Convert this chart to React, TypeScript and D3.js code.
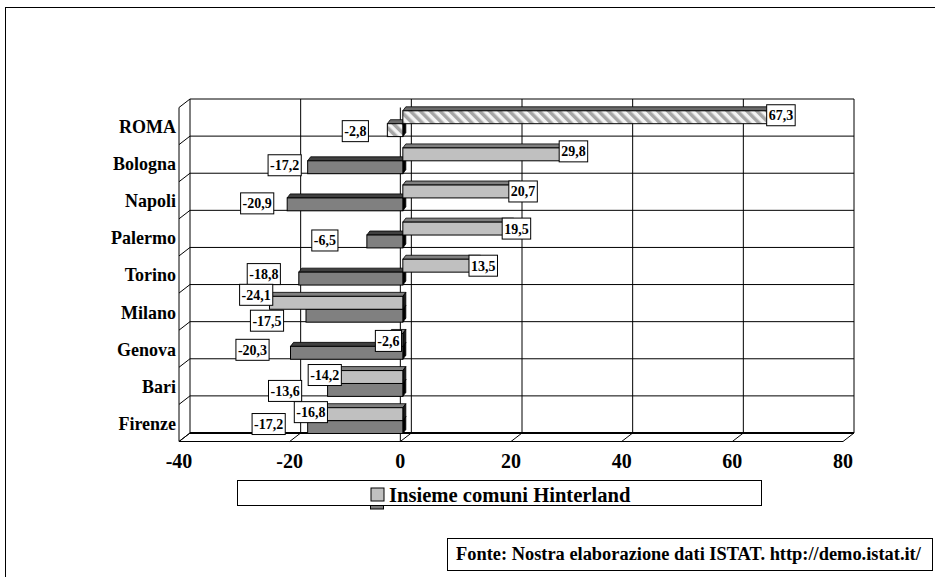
import React from 'react';
import * as d3 from 'd3';

// ---- data ----
const categories = ['ROMA', 'Bologna', 'Napoli', 'Palermo', 'Torino', 'Milano', 'Genova', 'Bari', 'Firenze'];
const hinterland = [67.3, 29.8, 20.7, 19.5, 13.5, -24.1, -2.6, -14.2, -16.8];
const centrale = [-2.8, -17.2, -20.9, -6.5, -18.8, -17.5, -20.3, -13.6, -17.2];
const xTicks = [-40, -20, 0, 20, 40, 60, 80];
const legendLabel = 'Insieme comuni Hinterland';
const sourceText = 'Fonte: Nostra elaborazione dati ISTAT. http://demo.istat.it/';
const hatchedCategory = 'ROMA';

// manual label nudges (px), relative to bar end (x) and bar centre (y)
const labelNudgeX1 = [5.7, 5.7, 5.7, 5.7, 5.7, -13.3, 0, 0.5, 1];
const labelNudgeY1 = [-2, -3, 0, 0, 0, -8, 1, -2, -2];
const labelNudgeX2 = [-32, -23, -30, -42, -35, -39, -38, -42.5, -39];
const labelNudgeY2 = [1, -2, -1, -1, -4.5, 5, -3, 1, -3];

const W = 935;
const H = 577;
const FONT = "'Liberation Serif', 'DejaVu Serif', serif";

// layout
const backTop = 99;
const backBottom = 433;
const frontLeft = 179;
const frontRight = 843;
const depthX = 11;
const depthY = 8.5;
const barDX = 3;
const barDY = 4;

const fmt = (v: number) => v.toFixed(1).replace('.', ',');

let measureCtx: CanvasRenderingContext2D | null = null;
function textWidth(t: string, font: string) {
  if (!measureCtx) measureCtx = document.createElement('canvas').getContext('2d');
  if (!measureCtx) return t.length * 7;
  measureCtx.font = font;
  return measureCtx.measureText(t).width;
}

const txt = (size: number): React.CSSProperties => ({
  fontFamily: FONT,
  fontWeight: 'bold',
  fontSize: `${size}px`,
});

export default function App() {
  const xFront = d3.scaleLinear().domain([-40, 80]).range([frontLeft, frontRight]);
  const xBack = d3.scaleLinear().domain([-40, 80]).range([frontLeft + depthX, frontRight + depthX]);
  const xBar = d3.scaleLinear().domain([-40, 80]).range([frontLeft + 2.5, frontRight + 2.5]);
  const yBand = d3.scaleBand<string>().domain(categories).range([backTop, backBottom]).paddingInner(0).paddingOuter(0);
  const bw = yBand.bandwidth();
  const ySeries = d3.scaleBand<string>().domain(['s1', 's2']).range([bw * 0.318, bw * 1.013]);
  const sh = ySeries.bandwidth();

  const labelFont = `bold 14px ${FONT}`;

  const bar = (key: string, v: number, yTop: number, h: number, fill: string, topFill: string, sideFill: string) => {
    const xa = xBar(Math.min(0, v));
    const xb = xBar(Math.max(0, v));
    const top = `${xa},${yTop} ${xa + barDX},${yTop - barDY} ${xb + barDX},${yTop - barDY} ${xb},${yTop}`;
    const side = `${xb},${yTop} ${xb + barDX},${yTop - barDY} ${xb + barDX},${yTop + h - barDY} ${xb},${yTop + h}`;
    return (
      <g key={key}>
        <polygon points={top} fill={topFill} stroke="#000" strokeWidth={0.8} />
        <polygon points={side} fill={sideFill} stroke="#000" strokeWidth={0.8} />
        <rect x={xa} y={yTop} width={xb - xa} height={h} fill={fill} stroke="#000" strokeWidth={1} />
      </g>
    );
  };

  const label = (key: string, v: number, cx: number, cy: number) => {
    const t = fmt(v);
    const w = textWidth(t, labelFont) + 4;
    const h = 21;
    return (
      <g key={key}>
        <rect x={cx - w / 2} y={cy - h / 2} width={w} height={h} fill="#fff" stroke="#000" strokeWidth={1} />
        <text transform={`translate(${cx},${cy + 5}) scale(1,1.08)`} textAnchor="middle" style={txt(14)} fill="#000">
          {t}
        </text>
      </g>
    );
  };

  const bars: React.ReactNode[] = [];
  const labels: React.ReactNode[] = [];
  categories.forEach((c, i) => {
    const b = yBand(c)!;
    const hatched = c === hatchedCategory;
    const y1 = b + ySeries('s1')!;
    const y2 = b + ySeries('s2')!;
    bars.push(
      bar(`d${i}`, centrale[i], y2, sh, hatched ? 'url(#hatch)' : '#808080', hatched ? '#6a6a6a' : '#404040', '#000')
    );
    bars.push(
      bar(`l${i}`, hinterland[i], y1, sh, hatched ? 'url(#hatch)' : '#c0c0c0', hatched ? '#6a6a6a' : '#808080', '#1a1a1a')
    );
    labels.push(label(`ll${i}`, hinterland[i], xBar(hinterland[i]) + labelNudgeX1[i], y1 + sh / 2 + labelNudgeY1[i]));
    labels.push(label(`ld${i}`, centrale[i], xBar(centrale[i]) + labelNudgeX2[i], y2 + sh / 2 + labelNudgeY2[i]));
  });

  const boundaries = categories.map((c) => yBand(c)!).concat([backBottom]);

  return (
    <svg
      width={W}
      height={H}
      viewBox={`0 0 ${W} ${H}`}
      style={{ position: 'absolute', left: 0, top: 0, background: '#fff' }}
    >
      <defs>
        <pattern id="hatch" patternUnits="userSpaceOnUse" width={7} height={7} patternTransform="rotate(-45)">
          <rect x={0} y={0} width={7} height={7} fill="#f4f4f4" />
          <rect x={0} y={0} width={3.5} height={7} fill="#a6a6a6" />
        </pattern>
      </defs>
      <rect x={0} y={0} width={W} height={H} fill="#fff" />
      <rect x={5.5} y={7.5} width={W + 10} height={H + 10} fill="none" stroke="#000" strokeWidth={1} />

      {boundaries.map((y, i) => (
        <line key={`hg${i}`} x1={xBack(-40)} x2={xBack(80)} y1={y} y2={y} stroke="#000" strokeWidth={i === boundaries.length - 1 ? 2 : 1} />
      ))}
      {xTicks.map((v) => (
        <line key={`vg${v}`} x1={xBack(v)} x2={xBack(v)} y1={backTop} y2={backBottom} stroke="#000" strokeWidth={1} />
      ))}
      <line x1={xFront(-40)} x2={xFront(-40)} y1={backTop + depthY} y2={backBottom + depthY} stroke="#000" strokeWidth={1} />
      {boundaries.map((y, i) => (
        <line key={`lw${i}`} x1={xFront(-40)} x2={xBack(-40)} y1={y + depthY} y2={y} stroke="#000" strokeWidth={1} />
      ))}
      <line x1={xFront(-40)} x2={xFront(80)} y1={backBottom + depthY} y2={backBottom + depthY} stroke="#000" strokeWidth={1} />
      {xTicks.map((v) => (
        <line key={`fg${v}`} x1={xFront(v)} x2={xBack(v)} y1={backBottom + depthY} y2={backBottom} stroke="#000" strokeWidth={1} />
      ))}
      <line x1={xFront(0)} x2={xFront(0)} y1={backTop + depthY} y2={backBottom + depthY} stroke="#000" strokeWidth={1} />

      {bars}
      {labels}

      {categories.map((c) => (
        <text key={`cl${c}`} transform={`translate(176,${yBand(c)! + 34}) scale(1,1.08)`} textAnchor="end" style={txt(18)} fill="#000">
          {c}
        </text>
      ))}
      {xTicks.map((v) => (
        <text key={`xt${v}`} x={xFront(v)} y={468} textAnchor="middle" style={txt(20)} fill="#000">
          {String(v)}
        </text>
      ))}

      <rect x={370.5} y={505} width={13} height={4} fill="#808080" stroke="#000" strokeWidth={1} />
      <rect x={237.5} y={480.5} width={524} height={25} fill="#fff" stroke="#000" strokeWidth={1} />
      <rect x={371} y={488} width={13} height={13} fill="#c0c0c0" stroke="#000" strokeWidth={1} />
      <text x={389} y={502} style={txt(20.6)} fill="#000">
        {legendLabel}
      </text>

      <rect x={447.5} y={538.5} width={485} height={32} fill="#fff" stroke="#000" strokeWidth={1} />
      <text x={456} y={560} style={txt(18.4)} fill="#000">
        {sourceText}
      </text>
    </svg>
  );
}
